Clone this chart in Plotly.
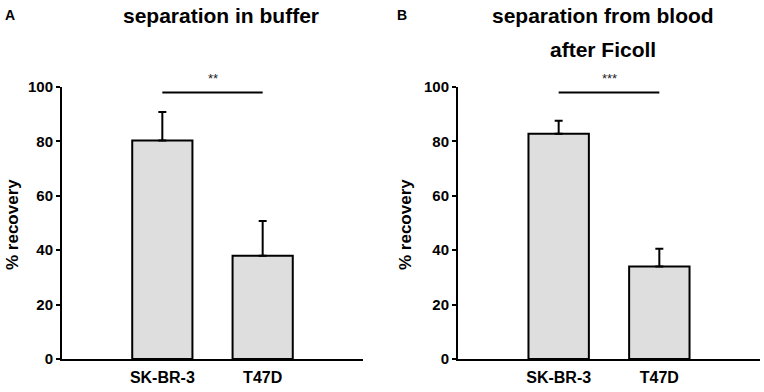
import plotly.graph_objects as go

categories = ["SK-BR-3", "T47D"]
buffer_mean = [80.3, 38.0]
buffer_err = [10.5, 12.7]
ficoll_mean = [82.8, 34.0]
ficoll_err = [4.8, 6.5]
sig_level = 98
y_ticks = [0, 20, 40, 60, 80, 100]

FONT = "Liberation Sans, Arial, sans-serif"
BAR_FILL = "#dedede"
W, H = 764, 392

fig = go.Figure()

panels = [
    ("x", "y", buffer_mean, buffer_err, "**"),
    ("x2", "y2", ficoll_mean, ficoll_err, "***"),
]
for xa, ya, mean, err, stars in panels:
    fig.add_trace(go.Bar(
        x=categories, y=mean, xaxis=xa, yaxis=ya, width=0.6,
        marker=dict(color=BAR_FILL, line=dict(color="black", width=2)),
        error_y=dict(type="data", array=err, arrayminus=[0] * len(err), symmetric=False,
                     color="black", thickness=2, width=4),
        showlegend=False, hoverinfo="skip",
    ))
    fig.add_trace(go.Scatter(
        x=categories, y=[sig_level, sig_level], xaxis=xa, yaxis=ya, mode="lines",
        line=dict(color="black", width=2), showlegend=False, hoverinfo="skip",
        cliponaxis=False,
    ))
    fig.add_annotation(x=0.5, y=1 - 78 / H, xref=xa, yref="paper", text=stars, showarrow=False,
                       font=dict(family=FONT, size=13, color="#222"), yanchor="middle")

xdomA = [62 / W, 363 / W]
xdomB = [458 / W, 760 / W]
ydom = [1 - 359 / H, 1 - 87 / H]

xcommon = dict(type="category", range=[-1, 2], showline=True, linewidth=2, linecolor="black",
               ticks="", showgrid=False, zeroline=False, automargin=False, ticklabelstandoff=3,
               tickfont=dict(family=FONT, size=16, color="black", weight="bold"))
ycommon = dict(range=[0, 100], tickvals=y_ticks, showline=True, linewidth=2, linecolor="black",
               ticks="outside", ticklen=4, tickwidth=2, tickcolor="black", showgrid=False,
               zeroline=False, automargin=False,
               tickfont=dict(family=FONT, size=15, color="black", weight="bold"))

fig.update_layout(
    width=W, height=H, margin=dict(l=0, r=0, t=0, b=0, pad=0), autosize=False,
    paper_bgcolor="white", plot_bgcolor="white",
    xaxis=dict(domain=xdomA, anchor="y", **xcommon),
    yaxis=dict(domain=ydom, anchor="x", **ycommon),
    xaxis2=dict(domain=xdomB, anchor="y2", **xcommon),
    yaxis2=dict(domain=ydom, anchor="x2", **ycommon),
    bargap=0.4,
)

def ann(text, x, y, size, weight="bold", angle=0):
    fig.add_annotation(x=x / W, y=1 - y / H, xref="paper", yref="paper", text=text,
                       showarrow=False, textangle=angle, xanchor="center", yanchor="middle",
                       font=dict(family=FONT, size=size, color="black", weight=weight))

ann("A", 10, 15, 14)
ann("B", 402, 15, 14)
ann("separation in buffer", 221, 15.5, 21)
ann("separation from blood", 603, 15.5, 21)
ann("after Ficoll", 603, 49.5, 21)
ann("% recovery", 12, 225, 17, angle=-90)
ann("% recovery", 405, 225, 17, angle=-90)

fig.write_html("out.html", config={"displayModeBar": False},
               post_script="document.body.style.margin='0px';")
